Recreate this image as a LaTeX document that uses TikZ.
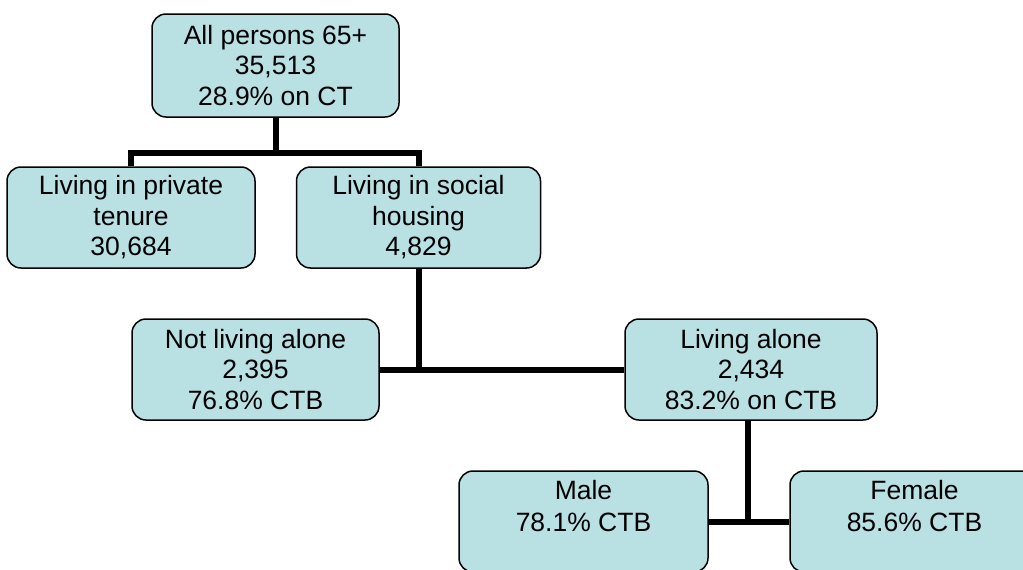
\documentclass[tikz,border=0pt]{standalone}
\usepackage{fontspec}
\setmainfont{Liberation Sans}
\usetikzlibrary{backgrounds}
\definecolor{boxfill}{RGB}{185,224,227}
\begin{document}
\begin{tikzpicture}[x=1pt,y=-1pt,
  orgbox/.style={draw=black,line width=1.5pt,fill=boxfill,rounded corners=14pt,
    inner sep=0pt,align=center,minimum height=101pt,
    font=\fontsize{26.5}{30.5}\selectfont},
  link/.style={line width=6pt,draw=black,line join=miter}]
\useasboundingbox (0,0) rectangle (1023,570);
\clip (0,0) rectangle (1023,570);
\node[orgbox,minimum width=247pt,minimum height=103pt] (top) at (275.5,65.5) {All persons 65+\\35,513\\28.9\% on CT};
\node[orgbox,minimum width=248pt] (priv) at (131,217.5) {Living in private\\tenure\\30,684};
\node[orgbox,minimum width=244pt] (soc) at (418.5,217.5) {Living in social\\housing\\4,829};
\node[orgbox,minimum width=247pt] (nal) at (255.5,369.5) {Not living alone\\2,395\\76.8\% CTB};
\node[orgbox,minimum width=252pt] (la) at (751,369.5) {Living alone\\2,434\\83.2\% on CTB};
\node[orgbox,minimum width=249pt] (male) at (583.5,521.5) {Male\\[1.5pt]78.1\% CTB\\[-9pt]\strut};
\node[orgbox,minimum width=249pt] (fem) at (914.5,521.5) {Female\\[1.5pt]85.6\% CTB\\[-9pt]\strut};
\coordinate (bus) at (0,153);
\begin{scope}[on background layer]
\draw[link] (top.south) -- (top.south |- bus);
\draw[link] (priv.north) |- (soc.north |- bus) -- (soc.north);
\draw[link] (soc.south) -- (soc.south |- nal.east);
\draw[link] (nal.east) -- (la.west);
\draw[link] ([xshift=-3pt]la.south) -- ([xshift=-3pt]la.south |- male.east);
\draw[link] (male.east) -- (fem.west);
\end{scope}
\end{tikzpicture}
\end{document}
